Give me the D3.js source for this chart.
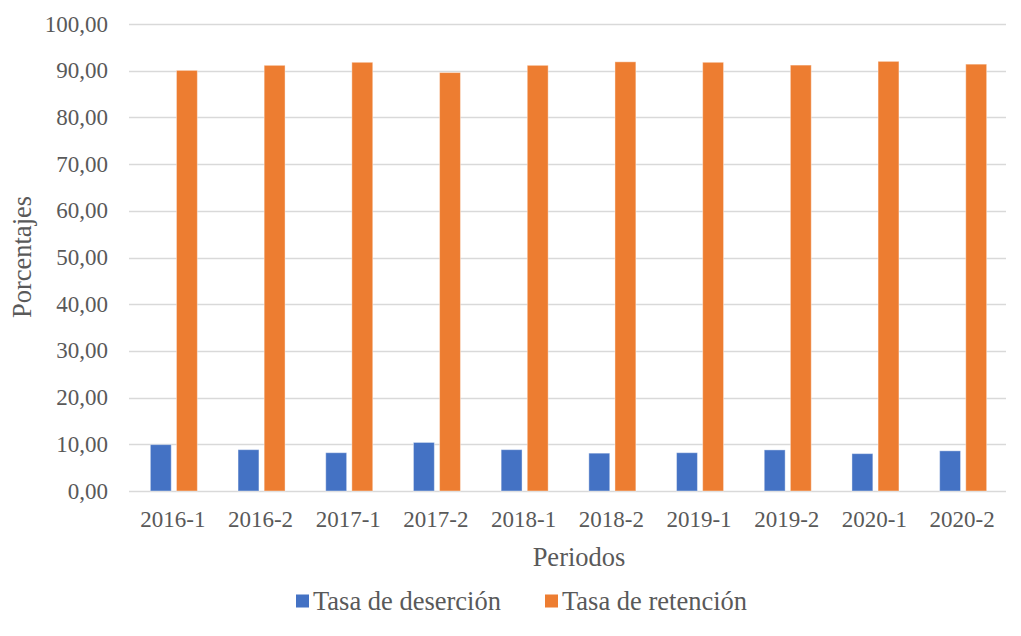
<!DOCTYPE html>
<html>
<head>
<meta charset="utf-8">
<script src="https://cdn.jsdelivr.net/npm/d3@7"></script>
<style>
  body { margin: 0; background: #fff; }
</style>
</head>
<body>
<script>
// chart data
var periodos = ["2016-1", "2016-2", "2017-1", "2017-2", "2018-1", "2018-2", "2019-1", "2019-2", "2020-1", "2020-2"];
var desercion = [9.93, 8.85, 8.20, 10.40, 8.85, 8.10, 8.20, 8.80, 8.00, 8.60];
var retencion = [90.07, 91.15, 91.80, 89.60, 91.15, 91.90, 91.80, 91.20, 92.00, 91.40];
var series = ["Tasa de deserción", "Tasa de retención"];
var colores = ["#4472c4", "#ed7d31"];
var yTicks = [0, 10, 20, 30, 40, 50, 60, 70, 80, 90, 100];

var width = 1021, height = 636;
var margin = { top: 24, right: 15, bottom: 145, left: 129 };
var fontFam = "'Liberation Serif', 'DejaVu Serif', serif";
var titleSize = 26.5;

var svg = d3.select("body").append("svg")
    .attr("width", width)
    .attr("height", height)
    .attr("font-family", fontFam)
    .attr("font-size", 23);

var x0 = d3.scaleBand()
    .domain(periodos)
    .range([margin.left, width - margin.right]);

var groupW = 47;
var x1 = d3.scaleBand()
    .domain([0, 1])
    .range([0, groupW])
    .paddingInner(0.2);

var y = d3.scaleLinear()
    .domain([0, 100])
    .range([height - margin.bottom, margin.top]);

var fmt = function(d) { return d3.format(".2f")(d).replace(".", ","); };

// gridlines
svg.append("g")
    .selectAll("line")
    .data(yTicks)
    .join("line")
    .attr("x1", margin.left)
    .attr("x2", width - margin.right)
    .attr("y1", function(d) { return Math.round(y(d)) + 0.5; })
    .attr("y2", function(d) { return Math.round(y(d)) + 0.5; })
    .attr("stroke", "#d9d9d9")
    .attr("stroke-width", 1.3);

// y tick labels
svg.append("g")
    .selectAll("text")
    .data(yTicks)
    .join("text")
    .attr("x", 108)
    .attr("y", function(d) { return y(d); })
    .attr("dy", "0.33em")
    .attr("text-anchor", "end")
    .attr("fill", "#595959")
    .text(fmt);

// bars
var rows = periodos.map(function(p, i) { return { p: p, v: [desercion[i], retencion[i]] }; });

var groups = svg.append("g")
    .selectAll("g")
    .data(rows)
    .join("g")
    .attr("transform", function(d) {
        return "translate(" + (x0(d.p) + (x0.bandwidth() - groupW) / 2 + 1) + ",0)";
    });

groups.selectAll("rect")
    .data(function(d) { return d.v.map(function(v, k) { return { k: k, v: v }; }); })
    .join("rect")
    .attr("x", function(d) { return x1(d.k); })
    .attr("width", x1.bandwidth())
    .attr("y", function(d) { return y(d.v); })
    .attr("height", function(d) { return y(0) - y(d.v); })
    .attr("fill", function(d) { return colores[d.k]; })
    .attr("stroke", "#fff")
    .attr("stroke-opacity", 0.4)
    .attr("stroke-width", 1);

// x labels
svg.append("g")
    .selectAll("text")
    .data(periodos)
    .join("text")
    .attr("x", function(d) { return x0(d) + x0.bandwidth() / 2; })
    .attr("y", 519)
    .attr("dy", "0.33em")
    .attr("text-anchor", "middle")
    .attr("fill", "#595959")
    .text(function(d) { return d; });

// axis titles
svg.append("text")
    .attr("x", 579)
    .attr("y", 557)
    .attr("dy", "0.33em")
    .attr("text-anchor", "middle")
    .attr("fill", "#595959")
    .attr("font-size", titleSize)
    .text("Periodos");

svg.append("text")
    .attr("transform", "translate(22,257) rotate(-90)")
    .attr("dy", "0.33em")
    .attr("text-anchor", "middle")
    .attr("fill", "#595959")
    .attr("font-size", titleSize)
    .text("Porcentajes");

// legend
var legX = [296, 545];
var leg = svg.append("g")
    .selectAll("g")
    .data(series)
    .join("g")
    .attr("transform", function(d, i) { return "translate(" + legX[i] + ",601)"; });

leg.append("rect")
    .attr("x", 0)
    .attr("y", -6.5)
    .attr("width", 13)
    .attr("height", 13)
    .attr("fill", function(d, i) { return colores[i]; });

leg.append("text")
    .attr("x", 17)
    .attr("y", 0)
    .attr("dy", "0.33em")
    .attr("fill", "#595959")
    .attr("font-size", titleSize)
    .text(function(d) { return d; });
</script>
</body>
</html>
